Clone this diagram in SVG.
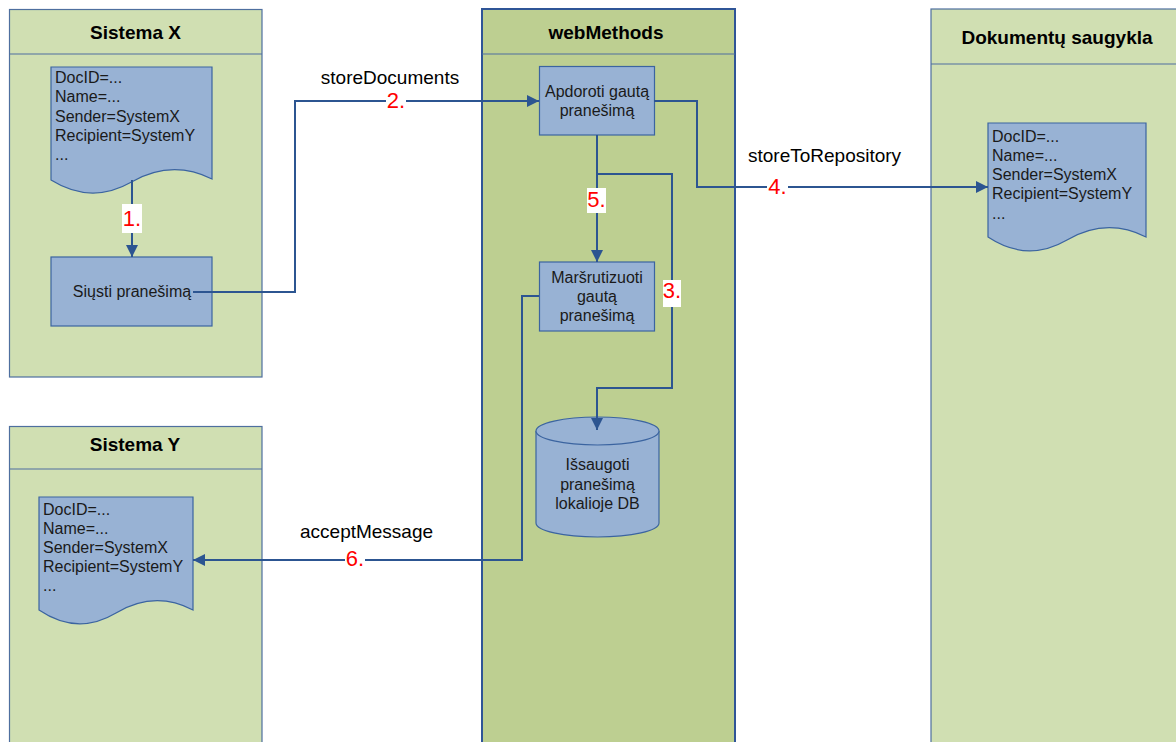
<svg xmlns="http://www.w3.org/2000/svg" width="1176" height="742" viewBox="0 0 1176 742">
<defs>
<style>
.lane{fill:#d0dfb2;stroke:#4e6f9f;stroke-width:1.2}
.lanewm{fill:#bdcf91;stroke:#2f5597;stroke-width:2}
.sep{stroke:#4e6f9f;stroke-width:1.2;fill:none}
.title{font-family:"Liberation Sans",Arial,sans-serif;font-weight:bold;font-size:19px;fill:#000;text-anchor:middle}
.node{fill:#98b2d4;stroke:#3b64a0;stroke-width:1.2}
.nt{font-family:"Liberation Sans",Arial,sans-serif;font-size:16px;fill:#1a1a1a}
.c{text-anchor:middle}
.conn{fill:none;stroke:#2c5591;stroke-width:2}
.lbl{font-family:"Liberation Sans",Arial,sans-serif;font-size:19px;fill:#000}
.num{font-family:"Liberation Sans",Arial,sans-serif;font-size:22px;fill:#ff0000;text-anchor:middle}
.bg{fill:#fff}
</style>
<marker id="arr" markerUnits="userSpaceOnUse" markerWidth="13" markerHeight="12" refX="12" refY="6" orient="auto"><path d="M0,0 L12,6 L0,12 Z" fill="#2c5591"/></marker>
</defs>
<rect x="0" y="0" width="1176" height="742" fill="#fff"/>

<g id="lane-sistema-x">
<rect class="lane" x="9.5" y="9.5" width="252.5" height="367.5"/>
<line class="sep" x1="9.5" y1="54" x2="262" y2="54"/>
<text class="title" x="135.5" y="39">Sistema X</text>
</g>
<g id="lane-webmethods">
<rect class="lanewm" x="482" y="9" width="253" height="750"/>
<line class="sep" x1="482" y1="54" x2="735" y2="54"/>
<text class="title" x="606" y="39">webMethods</text>
</g>
<g id="lane-dokumentu-saugykla">
<rect class="lane" x="931" y="9" width="260" height="750"/>
<line class="sep" x1="931" y1="64" x2="1176" y2="64"/>
<text class="title" x="1057" y="44">Dokumentų saugykla</text>
</g>
<g id="lane-sistema-y">
<rect class="lane" x="9.5" y="426.5" width="252.5" height="330"/>
<line class="sep" x1="9.5" y1="469" x2="262" y2="469"/>
<text class="title" x="135" y="451">Sistema Y</text>
</g>

<g id="doc-x">
<path class="node" d="M51,67 H212 V179 Q171.75,159 131.5,182 T51,180 Z"/>
<text class="nt" x="55" y="83">DocID=...</text>
<text class="nt" x="55" y="102">Name=...</text>
<text class="nt" x="55" y="121.5">Sender=SystemX</text>
<text class="nt" x="55" y="141">Recipient=SystemY</text>
<text class="nt" x="55" y="160">...</text>
</g>
<g id="node-siusti">
<rect class="node" x="51" y="257" width="161" height="69"/>
<text class="nt c" x="132" y="297">Siųsti pranešimą</text>
</g>
<g id="node-apdoroti">
<rect class="node" x="539.5" y="66.5" width="115" height="68.5"/>
<text class="nt c" x="597" y="97">Apdoroti gautą</text>
<text class="nt c" x="597" y="116">pranešimą</text>
</g>
<g id="node-marsrutizuoti">
<rect class="node" x="539.5" y="262" width="115" height="69"/>
<text class="nt c" x="597" y="283">Maršrutizuoti</text>
<text class="nt c" x="597" y="302">gautą</text>
<text class="nt c" x="597" y="321">pranešimą</text>
</g>
<g id="node-db">
<path class="node" d="M536,431 V523 A61.5,14 0 0 0 659,523 V431 A61.5,14 0 0 0 536,431 Z"/>
<path class="node" d="M536,431 A61.5,14 0 0 0 659,431"/>
<text class="nt c" x="597.5" y="470">Išsaugoti</text>
<text class="nt c" x="597.5" y="489.5">pranešimą</text>
<text class="nt c" x="597.5" y="509">lokalioje DB</text>
</g>
<g id="doc-repo">
<path class="node" d="M988,123 H1146 V237 Q1106.5,217 1067,240 T988,237 Z"/>
<text class="nt" x="992" y="141.7">DocID=...</text>
<text class="nt" x="992" y="160.9">Name=...</text>
<text class="nt" x="992" y="180">Sender=SystemX</text>
<text class="nt" x="992" y="199.3">Recipient=SystemY</text>
<text class="nt" x="992" y="218.5">...</text>
</g>
<g id="doc-y">
<path class="node" d="M39,497 H193 V610 Q154.5,590 116,613 T39,610 Z"/>
<text class="nt" x="43" y="514.5">DocID=...</text>
<text class="nt" x="43" y="533.7">Name=...</text>
<text class="nt" x="43" y="553">Sender=SystemX</text>
<text class="nt" x="43" y="572">Recipient=SystemY</text>
<text class="nt" x="43" y="591">...</text>
</g>

<g id="connectors">
<path class="conn" d="M132,180 V257" marker-end="url(#arr)"/>
<path class="conn" d="M193,292 H295 V101 H539" marker-end="url(#arr)"/>
<path class="conn" d="M654,101 H697 V187 H988" marker-end="url(#arr)"/>
<path class="conn" d="M597,135 V262" marker-end="url(#arr)"/>
<path class="conn" d="M597,174 H672 V388 H597 V430" marker-end="url(#arr)"/>
<path class="conn" d="M539,296 H522 V560 H193" marker-end="url(#arr)"/>

<text class="lbl" x="390" y="84" text-anchor="middle">storeDocuments</text>
<text class="lbl" x="748" y="162">storeToRepository</text>
<text class="lbl" x="300" y="538">acceptMessage</text>

<rect class="bg" x="122" y="204" width="20" height="29"/>
<text class="num" x="132" y="226">1.</text>
<rect class="bg" x="386" y="90" width="20" height="26"/>
<text class="num" x="396" y="108">2.</text>
<rect class="bg" x="663" y="280" width="18" height="27"/>
<text class="num" x="672" y="298">3.</text>
<rect class="bg" x="767" y="176" width="21" height="26"/>
<text class="num" x="777.5" y="194">4.</text>
<rect class="bg" x="587" y="188" width="19" height="25"/>
<text class="num" x="596.5" y="207">5.</text>
<rect class="bg" x="345" y="547" width="20" height="26"/>
<text class="num" x="355" y="566">6.</text>
</g>
</svg>
